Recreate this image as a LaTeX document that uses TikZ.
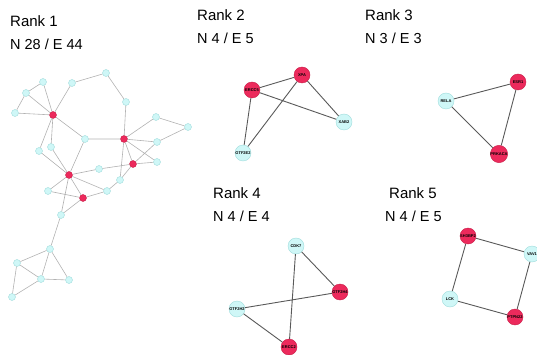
\documentclass[tikz,border=0pt]{standalone}
\usepackage{fontspec}
\setmainfont{Liberation Sans}
\usepackage{xcolor}
\usepackage{tikz}
\usetikzlibrary{positioning}

\definecolor{hubred}{HTML}{EC2A5C}
\definecolor{hubline}{HTML}{C81E48}
\definecolor{leafcyan}{HTML}{CFF7F7}
\definecolor{leafline}{HTML}{9FDCDC}

\begin{document}
\begin{tikzpicture}[x=1pt, y=-1pt, every node/.style={inner sep=0pt},
    hub/.style={circle, draw=hubline, fill=hubred, line width=0.4pt, minimum size=7pt},
    leaf/.style={circle, draw=leafline, fill=leafcyan, line width=0.4pt, minimum size=7pt},
    bighub/.style={hub, minimum size=16pt, font=\fontsize{4}{4.5}\selectfont\bfseries},
    bigleaf/.style={leaf, minimum size=16pt, font=\fontsize{4}{4.5}\selectfont\bfseries},
    rank/.style={anchor=base west, font=\fontsize{15}{18}\selectfont},
    stats/.style={anchor=base west, font=\fontsize{14.5}{18}\selectfont},
    faint/.style={draw=gray!60, line width=0.6pt},
    dark/.style={draw=black!65, line width=0.9pt}]
            \useasboundingbox (0,0) rectangle (537,355);
            \clip (0,0) rectangle (537,355);

            % Titles
            \node[rank] (t1) at (10,27) {Rank 1};
            \node[stats] (s1) at (10,50) {N 28 / E 44};
            \node[rank] (t2) at (197,21) {Rank 2};
            \node[stats] (s2) at (197,44) {N 4 / E 5};
            \node[rank] (t3) at (365,21) {Rank 3};
            \node[stats] (s3) at (365,44) {N 3 / E 3};
            \node[rank] (t4) at (213,199) {Rank 4};
            \node[stats] (s4) at (213,221) {N 4 / E 4};
            \node[rank] (t5) at (389,199) {Rank 5};
            \node[stats] (s5) at (385,221) {N 4 / E 5};

            % Rank 1 nodes
            \node[leaf] (a) at (43,82) {};
            \node[leaf] (b) at (26,93) {};
            \node[leaf] (c) at (15,113) {};
            \node[hub]  (hA) at (53,115) {};
            \node[leaf] (e) at (72,83) {};
            \node[leaf] (f) at (106,73) {};
            \node[leaf] (g) at (126,102) {};
            \node[hub]  (hB) at (124,139) {};
            \node[leaf] (h) at (85,139) {};
            \node[leaf] (j) at (156,117) {};
            \node[leaf] (k) at (188,127) {};
            \node[leaf] (l) at (157,142) {};
            \node[hub]  (hC) at (133,164) {};
            \node[leaf] (n) at (157,162) {};
            \node[leaf] (u) at (39,151) {};
            \node[leaf] (t) at (51,147) {};
            \node[hub]  (hD) at (69,175) {};
            \node[leaf] (p) at (99,169) {};
            \node[leaf] (q) at (120,180) {};
            \node[leaf] (r) at (107,191) {};
            \node[leaf] (v) at (48,191) {};
            \node[hub]  (hE) at (83,198) {};
            \node[leaf] (w) at (61,215) {};
            \node[leaf] (x) at (50,249) {};
            \node[leaf] (y) at (17,263) {};
            \node[leaf] (z) at (41,279) {};
            \node[leaf] (aa) at (69,280) {};
            \node[leaf] (bb) at (12,297) {};

            % Rank 1 edges
            \draw[faint] (a) -- (b) (b) -- (c) (a) -- (hA) (b) -- (hA) (c) -- (hA)
                (hA) -- (e) (e) -- (f) (f) -- (g) (g) -- (hB) (hA) -- (h) (h) -- (hB)
                (hB) -- (j) (j) -- (k) (k) -- (l) (hB) -- (l) (hB) -- (hC) (hB) -- (n)
                (hC) -- (n) (hC) -- (l) (hB) -- (q) (hA) -- (u) (hA) -- (t) (u) -- (hD)
                (t) -- (hD) (h) -- (hD) (hD) -- (p) (p) -- (hC) (hD) -- (r) (hD) -- (hE)
                (hD) -- (v) (v) -- (hE) (hE) -- (r) (r) -- (q) (q) -- (hC) (hD) -- (w)
                (hE) -- (w) (w) -- (x) (x) -- (y) (x) -- (z) (x) -- (aa) (y) -- (z)
                (z) -- (aa) (y) -- (bb) (z) -- (bb);

            % Rank 2
            \node[bighub]  (xpa) at (302,75) {XPA};
            \node[bighub]  (ercc5) at (252,90) {ERCC5};
            \node[bigleaf] (xab2) at (344,122) {XAB2};
            \node[bigleaf] (gtf2e2) at (243,153) {GTF2E2};
            \draw[dark] (xpa) -- (ercc5) (ercc5) -- (xab2) (xpa) -- (xab2)
                (ercc5) -- (gtf2e2) (xpa) -- (gtf2e2);

            % Rank 3
            \node[bighub]  (esr1) at (518,82) {ESR1};
            \node[bigleaf] (rela) at (446,101) {RELA};
            \node[bighub]  (prkaca) at (499,154) {PRKACA};
            \draw[dark] (esr1) -- (rela) (rela) -- (prkaca) (prkaca) -- (esr1);

            % Rank 4
            \node[bigleaf] (cdk7) at (296,246) {CDK7};
            \node[bighub]  (gtf2h4) at (340,292) {GTF2H4};
            \node[bigleaf] (gtf2h2) at (237,309) {GTF2H2};
            \node[bighub]  (ercc2) at (289,347) {ERCC2};
            \draw[dark] (cdk7) -- (gtf2h4) (cdk7) -- (ercc2)
                (gtf2h2) -- (gtf2h4) (gtf2h2) -- (ercc2);

            % Rank 5
            \node[bighub]  (sh3bp2) at (468,236) {SH3BP2};
            \node[bigleaf] (vav1) at (532,254) {VAV1};
            \node[bigleaf] (lck) at (450,299) {LCK};
            \node[bighub]  (ptpn22) at (515,317) {PTPN22};
            \draw[dark] (sh3bp2) -- (vav1) (vav1) -- (ptpn22)
                (ptpn22) -- (lck) (lck) -- (sh3bp2);
\end{tikzpicture}
\end{document}
